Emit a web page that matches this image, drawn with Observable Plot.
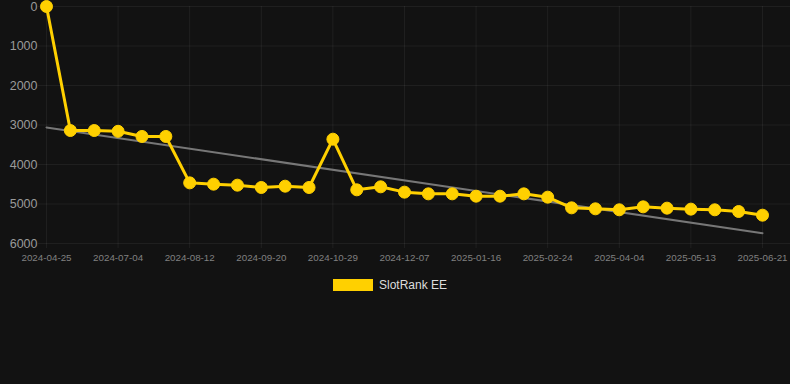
<!DOCTYPE html>
<html>
<head>
<meta charset="utf-8">
<script src="https://cdn.jsdelivr.net/npm/d3@7"></script>
<script src="https://cdn.jsdelivr.net/npm/@observablehq/plot@0.6"></script>
<style>
  html, body { margin: 0; padding: 0; background: #121212; }
  body { width: 790px; height: 384px; overflow: hidden; font-family: Arial, "Liberation Sans", sans-serif; }
  #legend { display: flex; justify-content: center; align-items: center; gap: 6px; margin-top: 8px; padding-right: 10px; }
  #legend .sw { width: 40px; height: 12px; background: #FFD000; }
  #legend .lb { color: #dddddd; font-size: 12px; }
</style>
</head>
<body>
<div id="chart"></div>
<div id="legend"><span class="sw"></span><span class="lb">SlotRank EE</span></div>
<script>
const dates = [
  "2024-04-25","2024-06-08","2024-06-21","2024-07-04","2024-07-17","2024-07-30",
  "2024-08-12","2024-08-25","2024-09-07","2024-09-20","2024-10-03","2024-10-16",
  "2024-10-29","2024-11-11","2024-11-24","2024-12-07","2024-12-20","2025-01-02",
  "2025-01-16","2025-01-29","2025-02-11","2025-02-24","2025-03-09","2025-03-22",
  "2025-04-04","2025-04-17","2025-04-30","2025-05-13","2025-05-26","2025-06-08",
  "2025-06-21"
];
const ranks = [
  0, 3140, 3140, 3160, 3290, 3290,
  4465, 4498, 4523, 4582, 4549, 4582,
  3359, 4641, 4565, 4700, 4743, 4743,
  4802, 4802, 4743, 4827, 5097, 5122,
  5147, 5072, 5105, 5130, 5147, 5190,
  5283
];
const trendRanks = [3063, 5739]; // trend line at first and last date
const yTicks = [0, 1000, 2000, 3000, 4000, 5000, 6000];
const seriesName = "SlotRank EE";

const data = dates.map((d, i) => ({i, date: d, rank: ranks[i]}));
const xTicks = d3.range(0, dates.length, 3);
const trend = [
  {i: 0, rank: trendRanks[0]},
  {i: dates.length - 1, rank: trendRanks[1]}
];

const gold = "#FFD000";
const chart = Plot.plot({
  width: 790,
  height: 270,
  marginLeft: 46,
  marginRight: 28,
  marginTop: 6,
  marginBottom: 27,
  style: {background: "transparent", overflow: "visible", fontFamily: "Arial, 'Liberation Sans', sans-serif"},
  x: {type: "linear", domain: [0, dates.length - 1], axis: null, label: null},
  y: {domain: [0, 6000], reverse: true, axis: null, label: null},
  marks: [
    Plot.ruleY(yTicks, {stroke: "#ffffff", strokeOpacity: 0.06, insetLeft: -8, insetRight: -28}),
    Plot.ruleX(xTicks, {stroke: "#ffffff", strokeOpacity: 0.06, insetBottom: -5}),
    Plot.axisY(yTicks, {tickSize: 0, tickPadding: 9, fontSize: 12.5, color: "#9a9a9a", tickFormat: d => String(d), label: null}),
    Plot.axisX(xTicks, {tickSize: 0, tickPadding: 11, fontSize: 9.8, color: "#808080", tickFormat: i => dates[i], label: null}),
    Plot.line(trend, {x: "i", y: "rank", stroke: "#777777", strokeWidth: 2}),
    Plot.line(data, {x: "i", y: "rank", stroke: gold, strokeWidth: 3, strokeLinejoin: "round"}),
    Plot.dot(data, {x: "i", y: "rank", r: 6, fill: gold, stroke: gold, strokeWidth: 1})
  ]
});
document.getElementById("chart").appendChild(chart);
</script>
</body>
</html>
